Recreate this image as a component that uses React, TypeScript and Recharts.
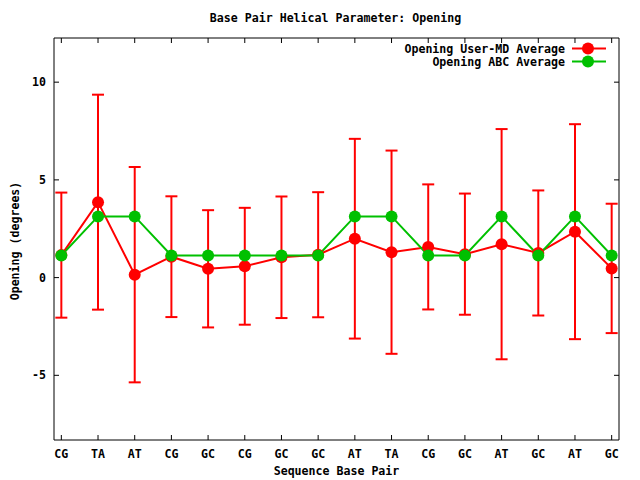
import React from 'react';
import { LineChart, Line, XAxis, YAxis, ErrorBar, Legend, Label } from 'recharts';

const categories = ['CG', 'TA', 'AT', 'CG', 'GC', 'CG', 'GC', 'GC', 'AT', 'TA', 'CG', 'GC', 'AT', 'GC', 'AT', 'GC'];
const userMdAverage = [1.15, 3.86, 0.15, 1.07, 0.45, 0.58, 1.04, 1.17, 1.99, 1.3, 1.57, 1.2, 1.71, 1.26, 2.35, 0.47];
const userMdStdDev = [3.2, 5.5, 5.51, 3.09, 3.0, 2.99, 3.11, 3.2, 5.11, 5.2, 3.2, 3.1, 5.89, 3.2, 5.5, 3.31];
const abcAverage = [1.13, 3.13, 3.13, 1.13, 1.13, 1.13, 1.13, 1.13, 3.13, 3.13, 1.13, 1.13, 3.13, 1.13, 3.13, 1.13];
const yTicks = [-5, 0, 5, 10];
const seriesNames = ['Opening User-MD Average', 'Opening ABC Average'];
const titleText = 'Base Pair Helical Parameter: Opening';
const xLabelText = 'Sequence Base Pair';
const yLabelText = 'Opening (degrees)';

const RED = '#ff0000';
const GREEN = '#00c000';
const FONT = '"DejaVu Sans Mono", "Liberation Mono", monospace';
const FS = 11.6;

const xTicks = categories.map((_, i) => i);
const data = categories.map((c, i) => ({
  x: i,
  cat: c,
  md: userMdAverage[i],
  sd: userMdStdDev[i],
  abc: abcAverage[i],
}));

const textStyle = { fontFamily: FONT, fontSize: FS, fontWeight: 'bold' as const, fill: '#000' };

const LegendContent = () => {
  const colors = [RED, GREEN];
  return (
    <div style={{ fontFamily: FONT, fontSize: FS, fontWeight: 'bold', color: '#000' }}>
      {seriesNames.map((n, i) => (
        <div key={n} style={{ display: 'flex', justifyContent: 'flex-end', alignItems: 'center', height: 13, whiteSpace: 'pre' }}>
          <span>{n}</span>
          <svg width={34} height={13} style={{ marginLeft: 7, display: 'block' }}>
            <line x1={0} y1={6.5} x2={34} y2={6.5} stroke={colors[i]} strokeWidth={2} />
            <circle cx={16} cy={6.5} r={6} fill={colors[i]} />
          </svg>
        </div>
      ))}
    </div>
  );
};

export default function App() {
  return (
    <div style={{ position: 'absolute', left: 0, top: 0, width: 640, height: 480, background: '#fff' }}>
      <LineChart width={640} height={480} data={data} margin={{ top: 0, right: 0, bottom: 0, left: 0 }}>
        <XAxis
          dataKey="x"
          type="number"
          domain={[-0.2, 15.2]}
          ticks={xTicks}
          tickFormatter={(v: number) => categories[v] ?? ''}
          interval={0}
          height={40}
          allowDataOverflow
          axisLine={{ stroke: '#000', strokeWidth: 1 }}
          tickLine={{ stroke: '#000', strokeWidth: 1 }}
          tickSize={-5}
          tickMargin={15}
          tick={textStyle}
        >
          <Label
            content={(p: any) => (
              <text x={p.viewBox.x + p.viewBox.width / 2} y={475} textAnchor="middle" style={textStyle}>
                {xLabelText}
              </text>
            )}
          />
        </XAxis>
        <XAxis
          xAxisId="top"
          orientation="top"
          dataKey="x"
          type="number"
          domain={[-0.2, 15.2]}
          ticks={xTicks}
          tickFormatter={() => ''}
          interval={0}
          height={38}
          allowDataOverflow
          axisLine={{ stroke: '#000', strokeWidth: 1 }}
          tickLine={{ stroke: '#000', strokeWidth: 1 }}
          tickSize={-5}
          tick={textStyle}
        >
          <Label
            content={() => (
              <text x={335.5} y={22} textAnchor="middle" style={textStyle}>
                {titleText}
              </text>
            )}
          />
        </XAxis>
        <YAxis
          type="number"
          domain={[-8.31, 12.26]}
          ticks={yTicks}
          interval={0}
          width={54}
          allowDataOverflow
          axisLine={{ stroke: '#000', strokeWidth: 1 }}
          tickLine={{ stroke: '#000', strokeWidth: 1 }}
          tickSize={-5}
          tickMargin={13}
          tick={textStyle}
        >
          <Label
            content={(p: any) => {
              const cx = 15;
              const cy = p.viewBox.y + p.viewBox.height / 2 + 2;
              return (
                <text x={cx} y={cy} textAnchor="middle" dominantBaseline="central" transform={`rotate(-90 ${cx} ${cy})`} style={textStyle}>
                  {yLabelText}
                </text>
              );
            }}
          />
        </YAxis>
        <YAxis
          yAxisId="right"
          orientation="right"
          type="number"
          domain={[-8.31, 12.26]}
          ticks={yTicks}
          tickFormatter={() => ''}
          interval={0}
          width={21}
          allowDataOverflow
          axisLine={{ stroke: '#000', strokeWidth: 1 }}
          tickLine={{ stroke: '#000', strokeWidth: 1 }}
          tickSize={-5}
          tick={textStyle}
        />
        <Legend
          layout="vertical"
          align="center"
          verticalAlign="middle"
          content={<LegendContent />}
          wrapperStyle={{ top: 42, right: 34, left: 'auto', width: 'auto' }}
        />
        <Line
          dataKey="md"
          name={seriesNames[0]}
          stroke={RED}
          strokeWidth={2}
          dot={{ r: 6, fill: RED, stroke: RED, strokeWidth: 0 }}
          activeDot={false}
          isAnimationActive={false}
        >
          <ErrorBar dataKey="sd" direction="y" width={6} stroke={RED} strokeWidth={2} isAnimationActive={false} />
        </Line>
        <Line
          dataKey="abc"
          name={seriesNames[1]}
          stroke={GREEN}
          strokeWidth={2}
          dot={{ r: 6, fill: GREEN, stroke: GREEN, strokeWidth: 0 }}
          activeDot={false}
          isAnimationActive={false}
        />
      </LineChart>
    </div>
  );
}
